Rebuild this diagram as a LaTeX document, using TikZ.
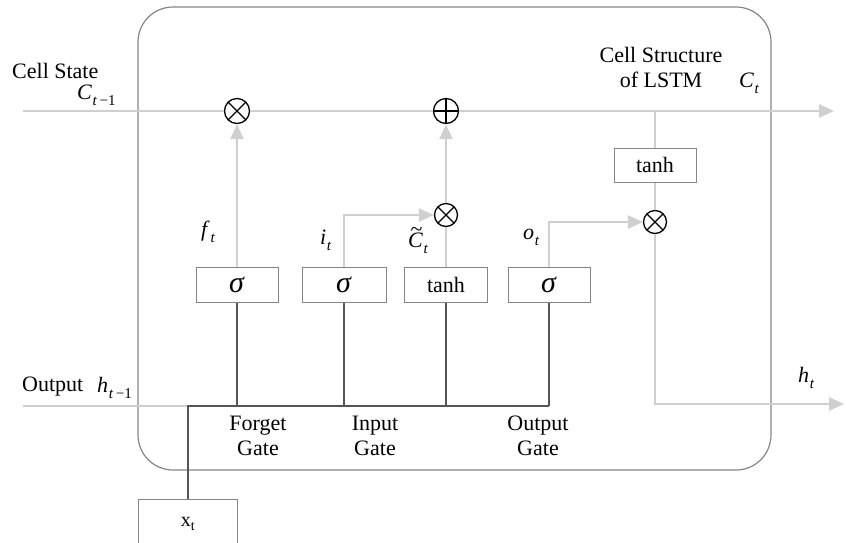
\documentclass[tikz,border=0pt]{standalone}
\usepackage{fontspec}
\setmainfont{Liberation Serif}
\usetikzlibrary{arrows.meta}
\definecolor{lg}{HTML}{CFCFCF}
\definecolor{dk}{HTML}{555555}
\definecolor{bx}{HTML}{858585}
\newcommand{\lsub}[1]{\raisebox{-0.28em}{\fontsize{15}{15}\selectfont #1}}
\newcommand{\vs}[2]{\textit{#1}\kern0.03em\lsub{#2}}
\newcommand{\tildeC}{\textit{C}\llap{\raisebox{0.47em}[0pt][0pt]{\textasciitilde}\kern0.02em}}
\begin{document}
\begin{tikzpicture}[x=1pt,y=-1pt,font=\fontsize{22}{25}\selectfont,
  light/.style={draw=lg,line width=2.3pt},
  arr/.style={-{Triangle[length=15pt,width=13pt,fill=lg]}},
  dark/.style={draw=dk,line width=2pt},
  gatebox/.style={draw=bx,line width=1pt,fill=white,minimum height=35pt,inner sep=0pt},
  opc/.style={circle,draw=black,line width=1.3pt,minimum size=#1,inner sep=0pt,fill=white},
  times/.style={opc=#1,path picture={\draw[line width=1.3pt]
      (path picture bounding box.north west) -- (path picture bounding box.south east)
      (path picture bounding box.north east) -- (path picture bounding box.south west);}},
  plus/.style={opc=#1,path picture={\draw[line width=1.3pt]
      (path picture bounding box.north) -- (path picture bounding box.south)
      (path picture bounding box.east) -- (path picture bounding box.west);}},
  lbl/.style={inner sep=0pt}]
\useasboundingbox (0,0) rectangle (846,542);
\clip (0,0) rectangle (846,542);

% cell frame
\node[draw=bx,line width=1.2pt,rounded corners=35pt,minimum width=633pt,minimum height=463pt,inner sep=0pt] (cell) at (454.5,238.5) {};

% operators
\node[times=25pt] (mulf) at (237,111) {};
\node[plus=25pt] (add) at (446,111) {};
\node[times=23pt] (muli) at (446,215) {};
\node[times=23pt] (mulo) at (655,222) {};

% boxes
\node[gatebox,minimum width=82pt] (fg) at (237,284.5) {\fontsize{30}{30}\selectfont\textit{σ}};
\node[gatebox,minimum width=84pt] (ig) at (344,284.5) {\fontsize{30}{30}\selectfont\textit{σ}};
\node[gatebox,minimum width=83pt] (tg) at (446,284.5) {tanh};
\node[gatebox,minimum width=82pt] (og) at (549,284.5) {\fontsize{30}{30}\selectfont\textit{σ}};
\node[gatebox,minimum width=82pt,minimum height=34pt] (tc) at (655,165) {tanh};

% coordinates
\coordinate (cin) at (23,111);
\coordinate (cout) at (834,111);
\coordinate (br) at (655,111);
\coordinate (hin) at (23,406);
\coordinate (j) at (188,406);
\coordinate (jf) at (237,406);
\coordinate (ji) at (344,406);
\coordinate (jt) at (446,406);
\coordinate (jo) at (549,406);
\coordinate (hout) at (844,404);
\coordinate (xt) at (188,499);

% light connectors
\draw[light] (cin) -- (mulf);
\draw[light] (mulf) -- (add);
\draw[light,arr] (add) -- (cout);
\draw[light,arr] (fg.north) -- (mulf.south);
\draw[light,arr] (ig.north) |- (muli.west);
\draw[light] (tg.north) -- (muli.south);
\draw[light,arr] (muli.north) -- (add.south);
\draw[light,arr] (og.north) |- (mulo.west);
\draw[light] (br) -- (tc.north);
\draw[light] (tc.south) -- (mulo.north);
\draw[light,arr] (mulo.south) |- (hout);
\draw[light] (hin) -- (j);

% dark connectors
\draw[dark] (fg.south) -- (jf);
\draw[dark] (ig.south) -- (ji);
\draw[dark] (tg.south) -- (jt);
\draw[dark] (og.south) -- (jo);
\draw[dark] (xt) -- (j) -- (jo);

% x_t box
\draw[draw=bx,line width=1pt] (138,560) -- (138,499) -- (237,499) -- (237,560);
\node[lbl,font=\fontsize{20}{22}\selectfont] (xtl) at (188,524) {x\textsubscript{t}};

% labels
\node[lbl,anchor=west] (cs) at (12,71) {Cell State};
\node[lbl,anchor=west] (ctm) at (77,95) {\vs{C}{\textit{t}\,−1}};
\node[lbl,anchor=west] (outl) at (22,387) {Output};
\node[lbl,anchor=west] (htm) at (97,388) {\vs{h}{\textit{t}\,−1}};
\node[lbl,align=center] (struct) at (661,67) {Cell Structure\\of LSTM};
\node[lbl,anchor=west] (ct) at (739,83) {\vs{C}{\textit{t}}};
\node[lbl,anchor=west] (ht) at (798,378) {\vs{h}{\textit{t}}};
\node[lbl,anchor=west] (ft) at (201,232) {\vs{f}{\textit{t}}};
\node[lbl,anchor=west] (it) at (320,240) {\vs{i}{\textit{t}}};
\node[lbl,anchor=west] (ctil) at (408,243) {\tildeC\kern0.03em\lsub{\textit{t}}};
\node[lbl,anchor=west] (ot) at (523,237) {\vs{o}{\textit{t}}};
\node[lbl,align=center] (fgl) at (258,436) {Forget\\Gate};
\node[lbl,align=center] (igl) at (375,436) {Input\\Gate};
\node[lbl,align=center] (ogl) at (538,436) {Output\\Gate};
\end{tikzpicture}
\end{document}
